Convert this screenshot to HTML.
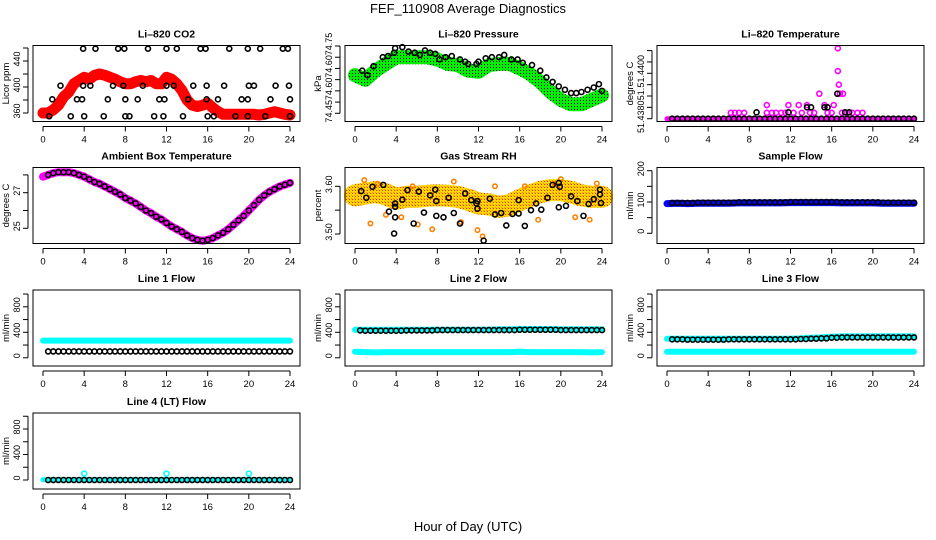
<!DOCTYPE html>
<html><head><meta charset="utf-8"><style>
html,body{margin:0;padding:0;background:#fff;}
svg{display:block;font-family:"Liberation Sans",sans-serif;}
</style></head><body>
<svg id="chart" width="936" height="540" viewBox="0 0 936 540" xmlns="http://www.w3.org/2000/svg">
<defs>
<pattern id="greenDots" width="3" height="3" patternUnits="userSpaceOnUse"><rect width="3" height="3" fill="#00ee00"/><rect x="1" y="1" width="1" height="1" fill="#000"/></pattern>
<pattern id="orangeDots" width="3" height="3" patternUnits="userSpaceOnUse"><rect width="3" height="3" fill="#ffd800"/><rect x="1" y="1" width="1" height="1" fill="#ff2000"/><rect x="0" y="0" width="1" height="1" fill="#ff9000"/></pattern>
</defs>
<text x="468" y="13" text-anchor="middle" font-size="13">FEF_110908  Average Diagnostics</text>
<text x="468" y="531" text-anchor="middle" font-size="13">Hour of Day (UTC)</text>
</svg>
<script>
// ---------- data ----------
const hours = [0,1,2,3,4,5,6,7,8,9,10,11,12,13,14,15,16,17,18,19,20,21,22,23,24];
const halfHours = [0,0.5,1,1.5,2,2.5,3,3.5,4,4.5,5,5.5,6,6.5,7,7.5,8,8.5,9,9.5,10,10.5,11,11.5,12,12.5,13,13.5,14,14.5,15,15.5,16,16.5,17,17.5,18,18.5,19,19.5,20,20.5,21,21.5,22,22.5,23,23.5,24];
const xTicks = [0,4,8,12,16,20,24];

const co2Red = [360,360,365,372,385,392,405,410,415,412,418,420,418,415,412,408,405,405,408,410,408,410,405,405,415,412,405,395,380,372,370,372,375,368,362,358,358,358,358,358,358,358,357,358,360,362,360,358,357];
const co2Black = [[3.9,459],[5.1,459],[7.3,459],[7.9,459],[10.2,459],[12,459],[13,459],[15.3,459],[15.8,459],[18.1,459],[19.9,459],[21.1,459],[23.3,459],[23.8,459],
 [1.7,402],[3.9,402],[4.6,402],[6.8,402],[7.8,402],[9.7,402],[12,402],[12.7,402],[14.6,402],[15.9,402],[17.6,402],[20,402],[20.5,402],[22.6,402],[23.9,402],
 [0.9,381],[3.3,381],[3.8,381],[6.3,381],[8,381],[9.2,381],[11.3,381],[11.8,381],[14.1,381],[15.9,381],[17,381],[19.3,381],[19.9,381],[22.1,381],[24,381],
 [0.6,355],[2.7,355],[4,355],[5.9,355],[8,355],[8.4,355],[10.8,355],[11.7,355],[13.6,355],[16,355],[16.6,355],[18.7,355],[19.9,355],[21.6,355],[24,355]];

const pressGreen = [74.62,74.60,74.64,74.67,74.70,74.70,74.70,74.70,74.69,74.67,74.665,74.64,74.635,74.665,74.67,74.67,74.65,74.625,74.59,74.545,74.51,74.49,74.49,74.51,74.53];
const pressBlack = [[0.7,74.64],[1.2,74.62],[1.8,74.66],[2.7,74.70],[3.2,74.705],[3.8,74.72],[3.9,74.74],[4.6,74.745],[5.2,74.725],[5.8,74.72],[6.3,74.71],[6.8,74.73],[7.3,74.72],[7.8,74.715],[8.2,74.69],[8.8,74.70],[9.4,74.705],[10.2,74.69],[10.7,74.68],[11,74.67],[11.8,74.67],[12,74.68],[12.7,74.695],[13.3,74.70],[14,74.70],[14.5,74.71],[15.2,74.69],[15.8,74.69],[16.3,74.675],[17.2,74.665],[18,74.64],[18.6,74.61],[19.2,74.59],[19.8,74.57],[20.4,74.555],[21,74.54],[21.5,74.54],[22,74.545],[22.6,74.555],[23.2,74.565],[23.7,74.58],[24,74.55]];

const tempBase = 51.4380;
const tempMagenta = [[6.2,51.43826],[6.6,51.43826],[7.0,51.43826],[7.5,51.43826],[9.7,51.4386],[9.7,51.43826],[10.2,51.43826],[10.6,51.43826],[11.1,51.43826],[11.5,51.43826],[11.8,51.4386],[12.3,51.43826],[12.8,51.4386],[13.1,51.43826],[13.6,51.4386],[13.9,51.43826],[14.3,51.43826],[14.8,51.4391],[15.3,51.4386],[15.6,51.43826],[16.0,51.43826],[16.2,51.4386],[16.6,51.4411],[16.6,51.4401],[16.7,51.4395],[16.8,51.4391],[17.1,51.4391],[17.0,51.43826],[17.5,51.43826],[18.0,51.43826],[18.5,51.43826],[19.0,51.43826]];
const tempBlackExtra = [[8.7,51.43828],[11.8,51.43828],[13.6,51.4385],[14.0,51.4385],[15.3,51.4385],[15.6,51.4385],[16.55,51.4391],[17.3,51.43828],[17.7,51.43828]];

const ambient = [27.9,28.0,28.1,28.15,28.15,28.15,28.1,28.0,27.9,27.75,27.6,27.5,27.35,27.2,27.05,26.9,26.7,26.55,26.4,26.2,26.0,25.85,25.65,25.5,25.3,25.1,24.95,24.8,24.6,24.45,24.35,24.3,24.35,24.45,24.6,24.75,24.95,25.2,25.45,25.7,26.0,26.3,26.6,26.85,27.05,27.2,27.35,27.45,27.55];

const rhCloud = [3.581,3.585,3.588,3.583,3.574,3.578,3.578,3.580,3.581,3.580,3.578,3.572,3.564,3.562,3.557,3.560,3.571,3.580,3.588,3.592,3.592,3.588,3.581,3.578,3.578];
const rhOutliers = [[0.9,3.613],[1.5,3.522],[2.2,3.605],[3.0,3.540],[4.5,3.535],[5.6,3.600],[6.1,3.520],[7.5,3.510],[9.6,3.610],[10.3,3.525],[11.9,3.508],[12.4,3.495],[13.6,3.600],[16.5,3.600],[17.8,3.530],[19.4,3.605],[20.0,3.615],[21.4,3.535],[22.8,3.530],[23.5,3.606]];
const rhBlack = [[0.6,3.590],[1.1,3.576],[1.7,3.599],[2.75,3.603],[3.3,3.547],[3.9,3.564],[3.9,3.557],[3.9,3.535],[3.8,3.501],[4.6,3.572],[5.1,3.592],[5.7,3.522],[6.2,3.589],[6.7,3.545],[7.3,3.581],[7.8,3.593],[7.9,3.569],[7.9,3.538],[8.6,3.535],[9.1,3.576],[9.6,3.544],[10.2,3.522],[10.7,3.585],[11.3,3.571],[11.8,3.564],[11.9,3.569],[11.9,3.553],[12.5,3.486],[13.1,3.574],[13.6,3.541],[14.2,3.544],[14.7,3.518],[15.3,3.542],[15.9,3.543],[15.9,3.571],[16.5,3.517],[17.1,3.550],[17.6,3.564],[18.1,3.551],[18.7,3.576],[19.2,3.603],[19.8,3.607],[19.9,3.599],[19.8,3.556],[20.5,3.559],[21.0,3.579],[21.6,3.569],[22.2,3.538],[22.7,3.563],[23.2,3.573],[23.8,3.593],[23.8,3.583],[23.9,3.565]];

const sampleBlue = [95,96,95,96,96,96,96,97,97,97,97,97,98,98,98,98,98,97,97,97,97,96,96,96,96];
const sampleBlack = [97,97,97,98,98,98,98,99,99,99,99,99,100,100,100,100,100,99,99,99,99,98,98,98,98];

const line1Cyan = [270,270,270,270,270,270,270,270,270,270,270,270,270,270,270,270,270,270,270,270,270,270,270,270,270];
const line1Black = [100,100,100,100,100,100,100,100,100,100,100,100,100,100,100,100,100,100,100,100,100,100,100,100,100];
const line2CyanHi = [440,440,440,440,440,440,440,440,440,440,440,440,440,440,445,445,450,450,450,450,445,445,445,445,445];
const line2CyanLo = [95,90,85,90,90,90,90,90,90,90,90,90,90,90,90,90,95,90,90,90,90,90,90,85,90];
const line2Black = [430,425,425,425,425,430,430,430,435,435,435,435,435,435,435,435,440,440,440,440,435,435,435,435,435];
const line3CyanHi = [300,300,300,300,300,300,300,300,300,300,300,300,300,305,315,320,330,335,335,335,335,335,335,335,335];
const line3CyanLo = [95,95,95,95,95,95,95,95,95,95,95,95,95,95,95,95,95,95,95,95,95,95,95,95,95];
const line3Black = [290,290,285,285,285,285,290,290,290,290,290,290,290,295,300,305,315,320,320,320,320,320,320,320,320];
const line4Cyan = [5,5,5,5,100,5,5,5,5,5,5,5,100,5,5,5,5,5,5,5,100,5,5,5,5];
const line4Black = [0,0,0,0,0,0,0,0,0,0,0,0,0,0,0,0,0,0,0,0,0,0,0,0,0];

// ---------- drawing ----------
const NS = "http://www.w3.org/2000/svg";
const svg = document.getElementById("chart");
function mk(tag, parent, attrs){const e=document.createElementNS(NS,tag);for(const k in attrs)e.setAttribute(k,attrs[k]);parent.appendChild(e);return e;}

const BW = 267, BH = 76;
function makePanel(name, title, bx, by, v0, p0, v1, p1, yTicks, yLabels, ylab){
  const g = mk("g", svg, {});
  
  
  const X = h => bx + 10 + h * 247 / 24;
  const Y = v => by + p0 + (v - v0) * (p1 - p0) / (v1 - v0);
  const t = mk("text", g, {x: bx + BW/2, y: by - 8, "text-anchor": "middle", "font-size": "10.5", "font-weight": "bold"});
  t.textContent = title;
  
  
  const plot = mk("g", g, {});
  
  
  const xa = mk("g", g, {});
  
  
  mk("line", xa, {x1: X(0), x2: X(24), y1: by + BH + 5, y2: by + BH + 5, stroke: "#000"});
  xTicks.forEach(tv => {
    mk("line", xa, {x1: X(tv), x2: X(tv), y1: by + BH + 5, y2: by + BH + 10, stroke: "#000"});
    const lt = mk("text", xa, {x: X(tv), y: by + BH + 21, "text-anchor": "middle", "font-size": "9.5"});
    lt.textContent = tv;
    
    
  });
  const ya = mk("g", g, {});
  
  
  mk("line", ya, {x1: bx - 5, x2: bx - 5, y1: Y(yTicks[0]), y2: Y(yTicks[yTicks.length-1]), stroke: "#000"});
  yTicks.forEach((tv, i) => {
    const yy = Y(tv);
    mk("line", ya, {x1: bx - 10, x2: bx - 5, y1: yy, y2: yy, stroke: "#000"});
    if (yLabels[i]) {
      const lt = mk("text", ya, {x: 0, y: 0, "text-anchor": "middle", "font-size": "9", transform: `translate(${bx-13},${yy-2}) rotate(-90)`});
      lt.textContent = yLabels[i];
      
      
    }
  });
  const yt = mk("text", g, {x: 0, y: 0, "text-anchor": "middle", "font-size": "9.5", transform: `translate(${bx-24},${by+BH/2}) rotate(-90)`});
  yt.textContent = ylab;
  
  
  const box = mk("rect", g, {x: bx, y: by, width: BW, height: BH, fill: "none", stroke: "#000"});
  
  
  return {plot, X, Y};
}
function band(p, xs, vs, paint, w, name){
  const pts = xs.map((h,i) => p.X(h).toFixed(1) + "," + p.Y(vs[i]).toFixed(1)).join(" ");
  const pl = mk("polyline", p.plot, {points: pts, fill: "none", stroke: paint, "stroke-width": w, "stroke-linejoin": "round", "stroke-linecap": "round"});
  
  
}
function circles(p, pairs, color, r, sw, name){
  pairs.forEach(([h,v]) => {
    const c = mk("circle", p.plot, {cx: p.X(h), cy: p.Y(v), r: r, fill: "none", stroke: color, "stroke-width": sw});
    
    
  });
}
const zipH = (xs, vs) => xs.map((h,i) => [h, vs[i]]);
const stepHalf = (vs) => { const out=[]; hours.forEach((h,i)=>{ out.push([h, vs[i]]); if (i < hours.length-1) out.push([h+0.5, vs[i]]); }); return out; };

const rows = [45.5, 167.5, 290, 413];
const cols = [33, 345, 657];
const R = 2.5, SW = 1.6;

let p = makePanel("co2-panel", "Li\u2013820 CO2", cols[0], rows[0], 360, 67.5, 440, 15.5, [360,380,400,420,440,460], ["360","","400","","440",""], "Licor ppm");
band(p, halfHours, co2Red, "#ff0000", 11, "co2-red-band");
circles(p, zipH(halfHours, co2Red), "#ff0000", R, SW, "co2-red-point");
circles(p, co2Black, "#000", R, SW, "co2-black-point");

p = makePanel("pressure-panel", "Li\u2013820 Pressure", cols[1], rows[0], 74.45, 67.8, 74.75, 0.5, [74.45,74.50,74.55,74.60,74.65,74.70,74.75], ["74.45","","74.60","","74.60","","74.75"], "kPa");
band(p, hours, pressGreen, "url(#greenDots)", 14, "pressure-green-band");
circles(p, pressBlack, "#000", R, SW, "pressure-black-point");

p = makePanel("li820-temp-panel", "Li\u2013820 Temperature", cols[2], rows[0], 51.4380, 73.2, 51.4400, 27.8, [51.4380,51.4385,51.4390,51.4395,51.4400,51.4405,51.4410], ["51.4380","","51.","","51.4400","",""], "degrees C");
band(p, [0,24], [tempBase,tempBase], "#ff00ff", 5, "temp-magenta-base");
circles(p, tempMagenta, "#ff00ff", R, SW, "temp-magenta-point");
circles(p, halfHours.slice(1).map(h=>[h,tempBase]), "#000", R, SW, "temp-black-point");
circles(p, tempBlackExtra, "#000", R, SW, "temp-black-point");

p = makePanel("ambient-panel", "Ambient Box Temperature", cols[0], rows[1], 27, 25.2, 25, 60.8, [25,26,27,28], ["25","","27",""], "degrees C");
band(p, halfHours, ambient, "#ff00ff", 8, "ambient-magenta-band");
circles(p, zipH(halfHours, ambient).slice(1), "#000", R, SW, "ambient-black-point");

p = makePanel("rh-panel", "Gas Stream RH", cols[1], rows[1], 3.60, 18.8, 3.50, 66.5, [3.50,3.55,3.60], ["3.50","","3.60"], "percent");
band(p, hours, rhCloud, "url(#orangeDots)", 22, "rh-orange-band");
circles(p, rhOutliers, "#ff8000", 2.2, 1.6, "rh-orange-point");
circles(p, rhBlack, "#000", R, SW, "rh-black-point");

p = makePanel("sample-flow-panel", "Sample Flow", cols[2], rows[1], 200, 3.2, 0, 65.8, [0,50,100,150,200], ["0","","100","","200"], "ml/min");
band(p, hours, sampleBlue, "#0000ff", 7, "sample-blue-band");
circles(p, stepHalf(sampleBlack).slice(1), "#000", R, SW, "sample-black-point");

const lTicks = [0,200,400,600,800,1000], lLabels = ["0","","400","","800",""];
p = makePanel("line1-panel", "Line 1 Flow", cols[0], rows[2], 0, 67.8, 800, 16.8, lTicks, lLabels, "ml/min");
band(p, hours, line1Cyan, "#00ffff", 6, "line1-cyan-band");
circles(p, stepHalf(line1Black).slice(1), "#000", R, SW, "line1-black-point");
p = makePanel("line2-panel", "Line 2 Flow", cols[1], rows[2], 0, 67.8, 800, 16.8, lTicks, lLabels, "ml/min");
band(p, hours, line2CyanHi, "#00ffff", 6, "line2-cyan-high");
band(p, hours, line2CyanLo, "#00ffff", 6, "line2-cyan-low");
circles(p, stepHalf(line2Black).slice(1), "#000", R, SW, "line2-black-point");
p = makePanel("line3-panel", "Line 3 Flow", cols[2], rows[2], 0, 67.8, 800, 16.8, lTicks, lLabels, "ml/min");
band(p, hours, line3CyanHi, "#00ffff", 6, "line3-cyan-high");
band(p, hours, line3CyanLo, "#00ffff", 6, "line3-cyan-low");
circles(p, stepHalf(line3Black).slice(1), "#000", R, SW, "line3-black-point");
p = makePanel("line4-panel", "Line 4 (LT) Flow", cols[0], rows[3], 0, 67, 800, 16, lTicks, lLabels, "ml/min");
band(p, [0,24], [line4Cyan[0], line4Cyan[24]], "#00ffff", 5, "line4-cyan-band");
circles(p, zipH(hours, line4Cyan).filter(d=>d[1]>50), "#00ffff", R, SW, "line4-cyan-spike");
circles(p, stepHalf(line4Black).slice(1), "#000", R, SW, "line4-black-point");
</script>
</body></html>
